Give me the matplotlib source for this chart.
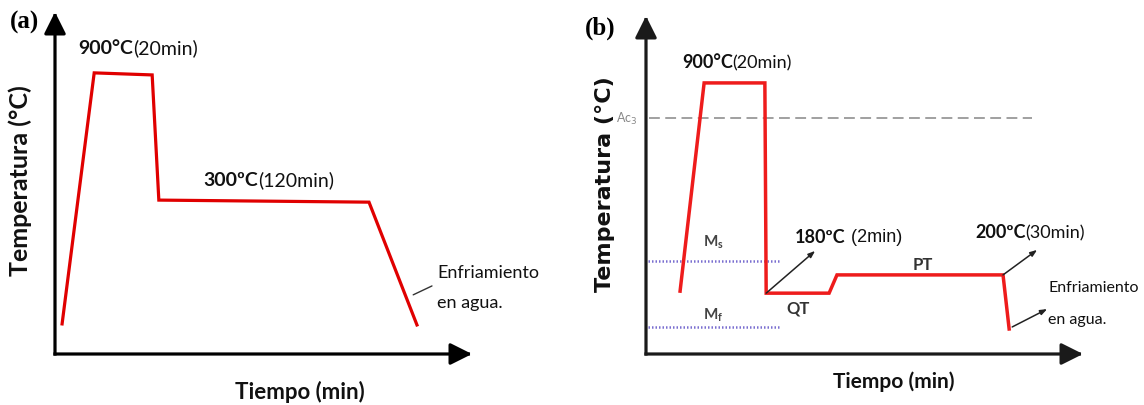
import matplotlib
matplotlib.use("Agg")
import matplotlib.pyplot as plt

# ---------------- data (schematic units, 0-100 on each axis) ----------------
# Panel (a): austenitise 900 C (20 min), hold 300 C (120 min), water quench
time_a = [1.7, 9.4, 23.3, 24.9, 75.3, 86.8]
temp_a = [8.8, 82.2, 81.6, 45.0, 44.4, 8.5]

# Panel (b): Q&P route 900 C (20 min) -> QT 180 C (2 min) -> PT 200 C (30 min) -> water
time_b = [7.8, 13.3, 27.2, 27.5, 41.9, 43.7, 81.7, 83.1]
temp_b = [18.6, 80.2, 80.2, 18.0, 18.0, 23.4, 23.4, 7.4]
ac3_level = 69.8
ms_level = 27.5
mf_level = 8.0
ref_line_end = [88.3, 30.9]   # x-end of Ac3 dashed line, and of Ms/Mf dotted lines

labels_a = {"hold1": ("900°C", "(20min)"), "hold2": ("300ºC", "(120min)")}
labels_b = {"hold1": ("900°C", "(20min)"), "qt": ("180ºC", " (2min)"),
            "pt": ("200ºC", "(30min)")}

W, H = 1144, 406
fig = plt.figure(figsize=(W / 100, H / 100), dpi=100)
fig.patch.set_facecolor("white")

SANS = ["Lato", "DejaVu Sans"]
SERIF = ["Liberation Serif", "DejaVu Serif"]


def make_axes(x0, x1, y_bottom, y_top):
    ax = fig.add_axes([x0 / W, 1 - y_bottom / H, (x1 - x0) / W, (y_bottom - y_top) / H])
    ax.set_xlim(0, 100)
    ax.set_ylim(0, 100)
    ax.axis("off")
    return ax


def axis_arrows(ax, color, lw):
    for end in [(100, 0), (0, 100)]:
        ax.annotate("", xy=end, xytext=(0, 0), xycoords="data",
                    arrowprops=dict(arrowstyle="-|>,head_length=0.6,head_width=0.3",
                                    mutation_scale=22, color=color, lw=lw,
                                    shrinkA=0, shrinkB=0, capstyle="projecting"),
                    annotation_clip=False)


def two_part(ax, x, y, bold_txt, normal_txt, size, color="#111111", normal_family=None):
    t1 = ax.text(x, y, bold_txt, fontsize=size, fontweight="bold", family=SANS,
                 color=color, va="center", ha="left", clip_on=False)
    ax.annotate(normal_txt, xy=(1, 0), xycoords=t1, va="bottom", ha="left",
                fontsize=size, family=normal_family or SANS, color=color,
                annotation_clip=False)
    return t1


# ---------------- Panel (a) ----------------
axa = make_axes(55, 472, 355, 13)
axis_arrows(axa, "black", 2.3)
axa.plot(time_a, temp_a, color="#e00000", lw=2.3, solid_joinstyle="miter", clip_on=False)
axa.text(-10.8, 97.1, "(a)", fontsize=18, fontweight="bold", family=SERIF,
         va="center", ha="left", clip_on=False)
two_part(axa, 5.5, 89.5, *labels_a["hold1"], size=14)
two_part(axa, 35.5, 50.9, *labels_a["hold2"], size=14)
axa.text(91.6, 24.0, "Enfriamiento", fontsize=13, family=SANS, color="#111111",
         va="center", ha="left", clip_on=False)
axa.text(91.6, 15.2, "en agua.", fontsize=13, family=SANS, color="#111111",
         va="center", ha="left", clip_on=False)
axa.annotate("", xy=(85.9, 17.3), xytext=(90.4, 19.9),
             arrowprops=dict(arrowstyle="-", color="#333333", lw=1.0,
                             shrinkA=0, shrinkB=0), annotation_clip=False)
axa.text(58.8, -10.8, "Tiempo (min)", fontsize=16, fontweight="bold", family=SANS,
         color="#111111", va="center", ha="center", clip_on=False)
axa.text(-8.4, 50.9, "Temperatura (°C)", fontsize=18, fontweight="bold", family=SANS,
         color="#111111", va="center", ha="center", rotation=90, clip_on=False)

# ---------------- Panel (b) ----------------
axb = make_axes(646, 1083, 355, 17)
axis_arrows(axb, "#1a1a1a", 2.3)
axb.plot([0.8, ref_line_end[0]], [ac3_level, ac3_level], color="#999999", lw=1.3,
         dashes=(6, 3))
axb.plot([0.5, ref_line_end[1]], [ms_level, ms_level], color="#7a6fd0", lw=1.8,
         ls=(0, (0.6, 0.8)))
axb.plot([0.5, ref_line_end[1]], [mf_level, mf_level], color="#7a6fd0", lw=1.8,
         ls=(0, (0.6, 0.8)))
axb.plot(time_b, temp_b, color="#ee1c1c", lw=2.5, solid_joinstyle="miter", clip_on=False)

axb.text(-14.0, 96.7, "(b)", fontsize=18, fontweight="bold", family=SERIF,
         va="center", ha="left", clip_on=False)
axb.text(-2.0, ac3_level, "Ac$_3$", fontsize=9, color="#888888", family=SANS,
         va="center", ha="right", clip_on=False)
two_part(axb, 8.2, 86.4, *labels_b["hold1"], size=13)
two_part(axb, 34.1, 34.9, *labels_b["qt"], size=13, normal_family=["Liberation Sans"])
two_part(axb, 75.3, 36.1, *labels_b["pt"], size=13)

axb.text(13.0, 33.4, "M$_\\mathregular{s}$", fontsize=11, fontweight="bold",
         family=SANS, color="#444444", va="center", ha="left")
axb.text(13.0, 11.8, "M$_\\mathregular{f}$", fontsize=11, fontweight="bold",
         family=SANS, color="#444444", va="center", ha="left")
axb.text(34.8, 13.9, "QT", fontsize=12, fontweight="bold", family=SANS,
         color="#333333", va="center", ha="center")
axb.text(63.4, 26.6, "PT", fontsize=12, fontweight="bold", family=SANS,
         color="#333333", va="center", ha="center")

arrow_kw = dict(arrowstyle="-|>,head_length=0.4,head_width=0.15", mutation_scale=10,
                color="#222222", lw=1.1, shrinkA=0, shrinkB=0)
axb.annotate("", xy=(38.7, 30.5), xytext=(time_b[3], temp_b[3]), arrowprops=arrow_kw,
             annotation_clip=False)
axb.annotate("", xy=(89.5, 30.8), xytext=(time_b[6], temp_b[6]), arrowprops=arrow_kw,
             annotation_clip=False)
axb.annotate("", xy=(91.8, 13.3), xytext=(83.8, 8.0), arrowprops=arrow_kw,
             annotation_clip=False)

axb.text(92.0, 19.8, "Enfriamiento", fontsize=11.5, family=SANS, color="#111111",
         va="center", ha="left", clip_on=False)
axb.text(92.0, 10.4, "en agua.", fontsize=11.5, family=SANS, color="#111111",
         va="center", ha="left", clip_on=False)
axb.text(56.8, -8.0, "Tiempo (min)", fontsize=15, fontweight="bold", family=SANS,
         color="#111111", va="center", ha="center", clip_on=False)
axb.text(-9.4, 50.6, "Temperatura (°C)", fontsize=16, fontweight="bold",
         family=["DejaVu Sans"], color="#111111", va="center", ha="center",
         rotation=90, clip_on=False)

fig.savefig("out.png", dpi=100, facecolor="white")
